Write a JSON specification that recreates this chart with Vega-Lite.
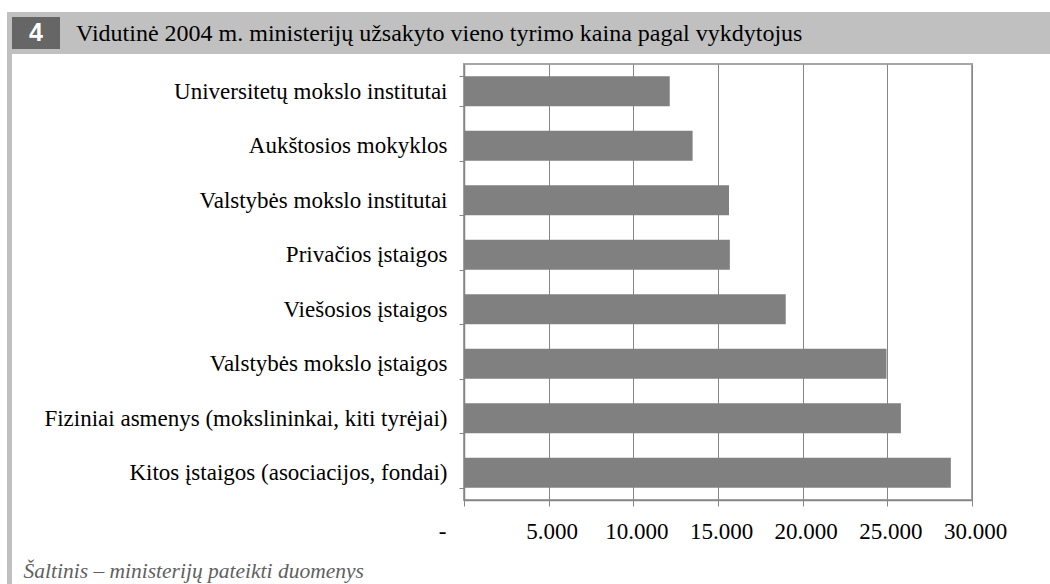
{
  "$schema": "https://vega.github.io/schema/vega-lite/v6.json",
  "width": 508,
  "height": 436,
  "autosize": {"type": "none"},
  "padding": {"left": 464, "top": 64, "right": 78, "bottom": 84},
  "background": "white",
  "config": {
    "view": {"stroke": "#a6a6a6", "strokeWidth": 2},
    "font": "Liberation Serif"
  },
  "title": {
    "text": "Vidutinė 2004 m. ministerijų užsakyto vieno tyrimo kaina pagal vykdytojus",
    "anchor": "start",
    "frame": "group",
    "dx": -388,
    "offset": -53,
    "baseline": "alphabetic",
    "font": "Liberation Serif",
    "fontSize": 24,
    "fontWeight": "normal",
    "color": "#000000"
  },
  "layer": [
    {
      "data": {"values": [{}]},
      "mark": {"type": "rect", "color": "#c0c0c0"},
      "encoding": {"x": {"value": -457}, "x2": {"value": 586}, "y": {"value": -52}, "y2": {"value": -10}}
    },
    {
      "data": {"values": [{}]},
      "mark": {"type": "rect", "color": "#c0c0c0"},
      "encoding": {"x": {"value": -457}, "x2": {"value": -452}, "y": {"value": -10}, "y2": {"value": 520}}
    },
    {
      "data": {"values": [{}]},
      "mark": {"type": "rect", "color": "#666666"},
      "encoding": {"x": {"value": -452}, "x2": {"value": -404}, "y": {"value": -47}, "y2": {"value": -15}}
    },
    {
      "data": {"values": [{"t": "4"}]},
      "mark": {"type": "text", "color": "white", "font": "Liberation Sans", "fontSize": 25, "fontWeight": "bold", "align": "center", "baseline": "middle"},
      "encoding": {"text": {"field": "t"}, "x": {"value": -428}, "y": {"value": -31}}
    },
    {
      "data": {
        "values": [
          {"vykdytojas": "Universitetų mokslo institutai", "kaina": 12150},
          {"vykdytojas": "Aukštosios mokyklos", "kaina": 13500},
          {"vykdytojas": "Valstybės mokslo institutai", "kaina": 15650},
          {"vykdytojas": "Privačios įstaigos", "kaina": 15700},
          {"vykdytojas": "Viešosios įstaigos", "kaina": 19000},
          {"vykdytojas": "Valstybės mokslo įstaigos", "kaina": 24950},
          {"vykdytojas": "Fiziniai asmenys (mokslininkai, kiti tyrėjai)", "kaina": 25800},
          {"vykdytojas": "Kitos įstaigos (asociacijos, fondai)", "kaina": 28750}
        ]
      },
      "mark": {"type": "bar", "color": "#808080"},
      "encoding": {
        "y": {
          "field": "vykdytojas",
          "type": "nominal",
          "sort": null,
          "scale": {"paddingInner": 0.45, "paddingOuter": 0.225},
          "axis": {
            "title": null,
            "domainColor": "#868686",
            "domainWidth": 1.5,
            "tickColor": "#868686",
            "tickBand": "extent",
            "tickSize": 5,
            "labelPadding": 12,
            "labelFont": "Liberation Serif",
            "labelFontSize": 23,
            "labelColor": "#000000",
            "labelLimit": 0,
            "labelOverlap": false,
            "grid": false
          }
        },
        "x": {
          "field": "kaina",
          "type": "quantitative",
          "scale": {"domain": [0, 30000], "nice": false},
          "axis": {
            "values": [0, 5000, 10000, 15000, 20000, 25000, 30000],
            "labelExpr": "datum.value == 0 ? '-' : replace(format(datum.value, ','), ',', '.')",
            "labelOverlap": false,
            "labelBound": false,
            "labelFlush": false,
            "grid": true,
            "gridColor": "#868686",
            "gridWidth": 1,
            "domainColor": "#868686",
            "domainWidth": 1.5,
            "tickColor": "#868686",
            "tickSize": 6,
            "labelPadding": 14,
            "labelFont": "Liberation Serif",
            "labelFontSize": 23,
            "labelColor": "#000000",
            "labelOffset": {"condition": {"test": "datum.value == 0", "value": -22}, "value": 3},
            "title": "Šaltinis – ministerijų pateikti duomenys",
            "titleFont": "Liberation Serif",
            "titleFontStyle": "italic",
            "titleFontWeight": "normal",
            "titleFontSize": 21.5,
            "titleColor": "#606060",
            "titleAlign": "left",
            "titleBaseline": "alphabetic",
            "titleX": -441,
            "titleY": 77
          }
        }
      }
    }
  ]
}
